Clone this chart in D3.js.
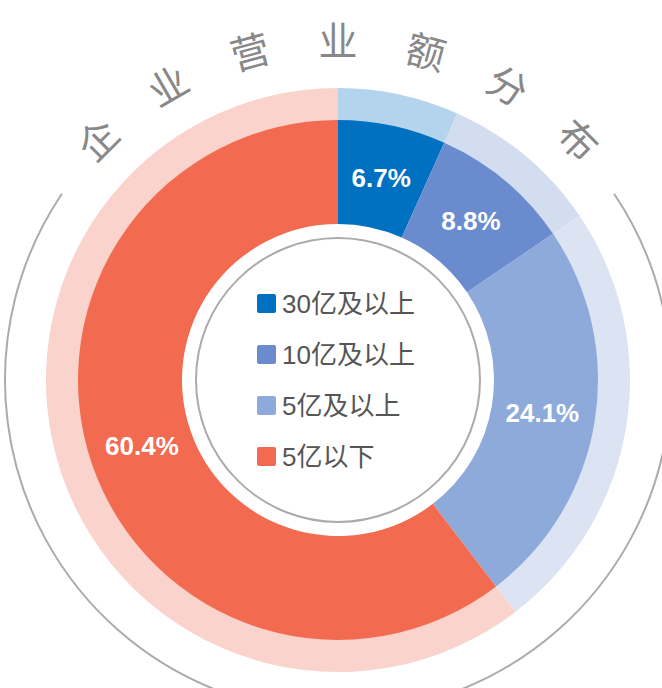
<!DOCTYPE html>
<html>
<head>
<meta charset="utf-8">
<script src="https://cdnjs.cloudflare.com/ajax/libs/d3/7.8.5/d3.min.js"></script>
<style>
  html, body { margin: 0; padding: 0; background: #fff; }
  svg { display: block; }
</style>
</head>
<body>
<script>
// ---- chart data ----
var categories = ["30亿及以上", "10亿及以上", "5亿及以上", "5亿以下"];
var shares = [6.7, 8.8, 24.1, 60.4];
var darkColors = ["#0070c0", "#6a8ccf", "#8eaadb", "#f26a4f"];
var lightColors = ["#b4d4ed", "#d2ddef", "#dce4f4", "#f9d3cc"];
var titleChars = ["企", "业", "营", "业", "额", "分", "布"];

var width = 662, height = 688;
var cx = 338, cy = 380;

var svg = d3.select("body").append("svg")
    .attr("width", width)
    .attr("height", height);

var g = svg.append("g").attr("transform", "translate(" + cx + "," + cy + ")");

var pie = d3.pie().sort(null).value(function(d) { return d; });
var arcs = pie(shares);

var darkArc = d3.arc().innerRadius(156).outerRadius(260);
var lightArc = d3.arc().innerRadius(259.5).outerRadius(292);
var labelArc = d3.arc().innerRadius(207).outerRadius(207);

// light outer band
g.selectAll(".light")
  .data(arcs)
  .enter()
  .append("path")
  .attr("class", "light")
  .attr("d", lightArc)
  .attr("fill", function(d, i) { return lightColors[i]; });

// main ring
g.selectAll(".dark")
  .data(arcs)
  .enter()
  .append("path")
  .attr("class", "dark")
  .attr("d", darkArc)
  .attr("fill", function(d, i) { return darkColors[i]; });

// percent labels
g.selectAll(".pct")
  .data(arcs)
  .enter()
  .append("text")
  .attr("class", "pct")
  .attr("transform", function(d) { return "translate(" + labelArc.centroid(d) + ")"; })
  .attr("text-anchor", "middle")
  .attr("dominant-baseline", "central")
  .attr("font-family", "'Liberation Sans', Arial, sans-serif")
  .attr("font-weight", "bold")
  .attr("font-size", 26)
  .attr("fill", "#fff")
  .text(function(d) { return d.data.toFixed(1) + "%"; });

// inner grey circle
g.append("circle")
  .attr("r", 142)
  .attr("fill", "none")
  .attr("stroke", "#ababab")
  .attr("stroke-width", 2);

// outer grey arc (open at top for the title)
var deg = Math.PI / 180;
g.append("path")
  .attr("d", d3.arc().innerRadius(333).outerRadius(333)
    .startAngle(56 * deg).endAngle(304 * deg)())
  .attr("fill", "none")
  .attr("stroke", "#ababab")
  .attr("stroke-width", 2);

// title along the arc
var titleAngle = d3.scalePoint().domain(d3.range(titleChars.length)).range([-45, 45]);
g.selectAll(".title")
  .data(titleChars)
  .enter()
  .append("text")
  .attr("class", "title")
  .attr("transform", function(d, i) {
    var a = titleAngle(i);
    var x = 342 * Math.sin(a * deg), y = -342 * Math.cos(a * deg);
    return "translate(" + x + "," + y + ") rotate(" + a + ")";
  })
  .attr("text-anchor", "middle")
  .attr("dominant-baseline", "central")
  .attr("font-family", "'Noto Sans CJK SC', sans-serif")
  .attr("font-size", 39)
  .attr("fill", "#888")
  .text(function(d) { return d; });

// legend
var legendY = d3.scalePoint().domain(categories).range([303.5, 456.5]);
var legend = svg.selectAll(".legend")
  .data(categories)
  .enter()
  .append("g")
  .attr("class", "legend")
  .attr("transform", function(d) { return "translate(257," + legendY(d) + ")"; });

legend.append("rect")
  .attr("x", 0)
  .attr("y", -9.5)
  .attr("width", 19)
  .attr("height", 19)
  .attr("rx", 2)
  .attr("fill", function(d, i) { return darkColors[i]; });

legend.append("text")
  .attr("x", 25)
  .attr("y", 0)
  .attr("dominant-baseline", "central")
  .attr("font-family", "'Liberation Sans', 'Noto Sans CJK SC', sans-serif")
  .attr("font-size", 26)
  .attr("fill", "#555")
  .text(function(d) { return d; });
</script>
</body>
</html>
